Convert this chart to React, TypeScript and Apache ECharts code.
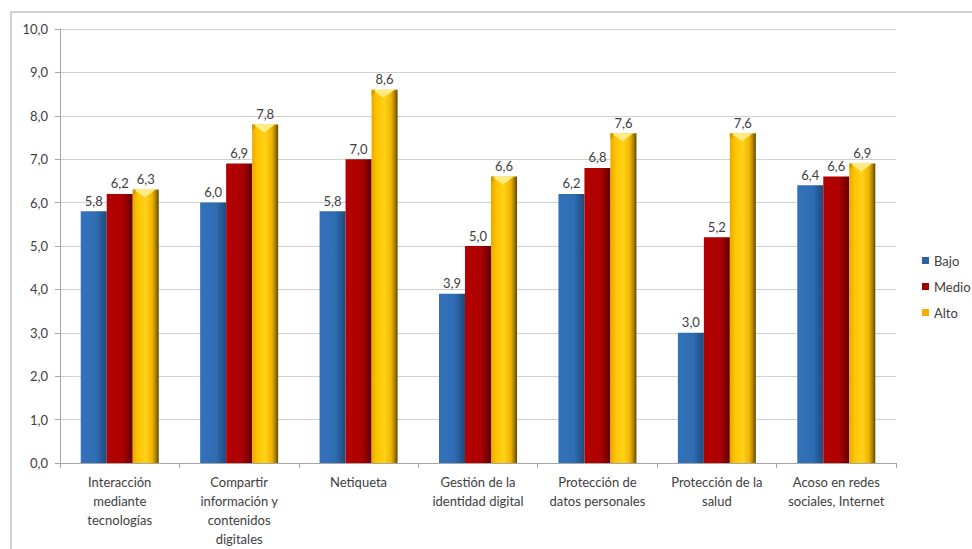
import React, { useEffect, useRef } from "react";
import * as echarts from "echarts";

const categories = [
  "Interacción\nmediante\ntecnologías",
  "Compartir\ninformación y\ncontenidos\ndigitales",
  "Netiqueta",
  "Gestión de la\nidentidad digital",
  "Protección de\ndatos personales",
  "Protección de la\nsalud",
  "Acoso en redes\nsociales, Internet",
];
const bajo = [5.8, 6.0, 5.8, 3.9, 6.2, 3.0, 6.4];
const medio = [6.2, 6.9, 7.0, 5.0, 6.8, 5.2, 6.6];
const alto = [6.3, 7.8, 8.6, 6.6, 7.6, 7.6, 6.9];

const FONT = "Lato, 'Noto Sans', sans-serif";
const TEXT = "#404040";
const BAR_W = 26;

const fmt = (v: number) => v.toFixed(1).replace(".", ",");

const hGrad = (stops: [number, string][]) =>
  new echarts.graphic.LinearGradient(
    0, 0, 1, 0,
    stops.map(([offset, color]) => ({ offset, color }))
  );

function barSeries(name: string, data: number[], fill: any) {
  return {
    name,
    type: "bar",
    data,
    barWidth: BAR_W,
    barGap: "0%",
    itemStyle: { color: fill },
    label: {
      show: true,
      position: "top",
      distance: 4,
      color: TEXT,
      fontFamily: FONT,
      fontSize: 13,
      formatter: (p: any) => fmt(p.value),
    },
    emphasis: { disabled: true },
  };
}

export default function App() {
  const ref = useRef<HTMLDivElement>(null);

  useEffect(() => {
    if (!ref.current) return;
    const chart = echarts.init(ref.current, undefined, { renderer: "svg" });

    const blueFill = hGrad([
      [0, "#3372bb"],
      [0.6, "#2f6db3"],
      [0.75, "#285f9d"],
      [1, "#1f4a7c"],
    ]);
    const redFill = hGrad([
      [0, "#b40000"],
      [0.6, "#ad0000"],
      [0.78, "#8e0000"],
      [1, "#5e0000"],
    ]);
    const goldFill = hGrad([
      [0, "#e8a800"],
      [0.2, "#ffc400"],
      [0.5, "#ffd21a"],
      [0.75, "#f0b400"],
      [0.9, "#a67c00"],
      [1, "#5c4500"],
    ]);

    // bevelled cap on top of each "Alto" bar (third bar of the group)
    const altoCap = {
      type: "custom",
      name: "altoCap",
      silent: true,
      z: 3,
      data: alto.map((v, i) => [i, v]),
      renderItem: (_params: any, api: any) => {
        const idx = api.value(0);
        const val = api.value(1);
        const [cx, top] = api.coord([idx, val]);
        const x = cx + BAR_W; // centre of the third bar
        const half = BAR_W / 2;
        return {
          type: "group",
          children: [
            {
              type: "polygon",
              shape: {
                points: [
                  [x - half + 1, top],
                  [x + half - 3, top],
                  [x - 1, top + 8],
                ],
              },
              style: { fill: "#ffeb80" },
            },
            {
              type: "polygon",
              shape: {
                points: [
                  [x - half, top],
                  [x - half + 3, top],
                  [x - half + 3, top + 4],
                  [x - half, top + 6],
                ],
              },
              style: { fill: "#d99a00" },
            },
          ],
        };
      },
    };

    chart.setOption({
      animation: false,
      backgroundColor: "#ffffff",
      graphic: [
        {
          type: "rect",
          shape: { x: 11, y: 12, width: 1000, height: 600 },
          style: { fill: "none", stroke: "#c4c4c4", lineWidth: 1.5 },
          silent: true,
          z: -1,
        },
      ],
      legend: {
        orient: "vertical",
        left: 917,
        top: 249,
        itemWidth: 7,
        itemHeight: 7,
        itemGap: 13,
        icon: "rect",
        textStyle: {
          color: TEXT,
          fontFamily: FONT,
          fontSize: 13,
          overflow: "none",
          width: 60,
        },
        data: [
          { name: "Bajo", itemStyle: { color: "#2a62a3" } },
          { name: "Medio", itemStyle: { color: "#a00000" } },
          { name: "Alto", itemStyle: { color: "#f0b000" } },
        ],
      },
      grid: { left: 60, right: 76, top: 29, bottom: 86, containLabel: false },
      xAxis: {
        type: "category",
        data: categories,
        axisLine: { show: true, lineStyle: { color: "#a6a6a6", width: 1 } },
        axisTick: { show: true, length: 5, lineStyle: { color: "#a6a6a6" } },
        axisLabel: {
          color: TEXT,
          fontFamily: FONT,
          fontSize: 13,
          lineHeight: 19,
          margin: 9,
          interval: 0,
          align: "center",
        },
      },
      yAxis: {
        type: "value",
        min: 0,
        max: 10,
        interval: 1,
        axisLine: { show: true, lineStyle: { color: "#a6a6a6", width: 1 } },
        axisTick: { show: true, length: 5, lineStyle: { color: "#a6a6a6" } },
        splitLine: { show: true, lineStyle: { color: "#d0d0d0", width: 1 } },
        axisLabel: {
          color: TEXT,
          fontFamily: FONT,
          fontSize: 13,
          margin: 12,
          formatter: (v: number) => fmt(v),
        },
      },
      series: [
        barSeries("Bajo", bajo, blueFill),
        barSeries("Medio", medio, redFill),
        barSeries("Alto", alto, goldFill),
        altoCap,
      ],
    });

    return () => chart.dispose();
  }, []);

  return (
    <div
      ref={ref}
      style={{ position: "fixed", left: 0, top: 0, width: 972, height: 549 }}
    />
  );
}
